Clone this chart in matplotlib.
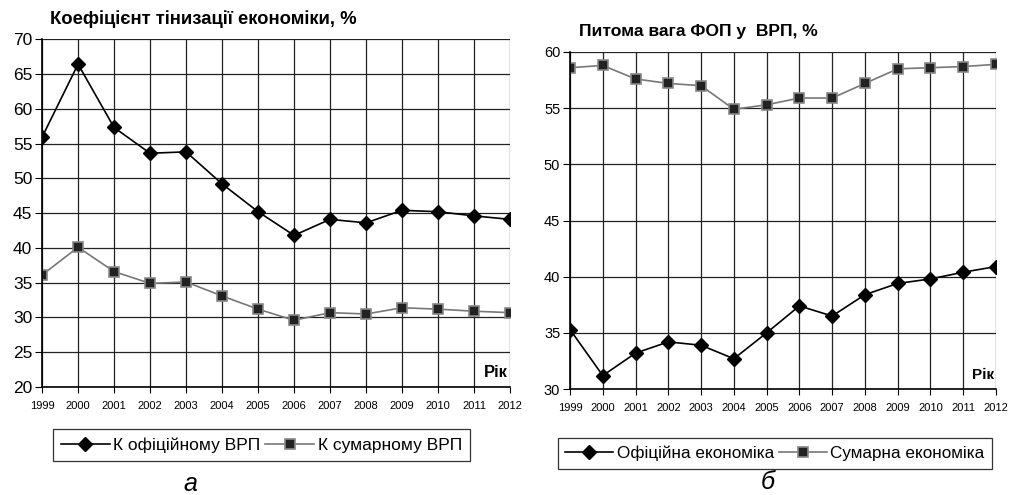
# shadow economy coefficient and share of individual entrepreneurs in GRP
import matplotlib.pyplot as plt

years = list(range(1999, 2013))

# left panel: coefficient of shadow economy, %
k_official = [55.9, 66.4, 57.3, 53.6, 53.8, 49.2, 45.2, 41.8, 44.1, 43.6, 45.4, 45.2, 44.6, 44.1]
k_total = [36.1, 40.1, 36.6, 34.9, 35.1, 33.1, 31.2, 29.6, 30.7, 30.5, 31.4, 31.2, 30.9, 30.7]

# right panel: share of FOP in GRP, %
fop_official = [35.3, 31.2, 33.2, 34.2, 33.9, 32.7, 35.0, 37.4, 36.5, 38.4, 39.4, 39.8, 40.4, 40.9]
fop_total = [58.6, 58.8, 57.6, 57.2, 57.0, 54.9, 55.3, 55.9, 55.9, 57.2, 58.5, 58.6, 58.7, 58.9]

plt.rcParams['font.family'] = ['Liberation Sans', 'DejaVu Sans']

fig = plt.figure(figsize=(10.13, 4.95), dpi=100)
ax1 = fig.add_axes([0.0415, 0.218, 0.462, 0.703])
ax2 = fig.add_axes([0.5627, 0.214, 0.4205, 0.681])

def style(ax, ylo, yhi, ysize, rsize):
    ax.set_xlim(1999, 2012)
    ax.set_ylim(ylo, yhi)
    ax.set_xticks(years)
    ax.set_xticklabels([str(y) for y in years], fontsize=8)
    ax.set_yticks(range(ylo, yhi + 1, 5))
    ax.tick_params(axis='y', labelsize=ysize, length=5, pad=2)
    ax.tick_params(axis='x', length=4, pad=6)
    ax.grid(True, color='#222222', lw=0.9)
    ax.set_axisbelow(True)
    for s in ['top', 'right']:
        ax.spines[s].set_visible(False)
    ax.spines['left'].set_linewidth(1.2)
    ax.spines['bottom'].set_linewidth(1.2)
    ax.text(0.995, 0.02, 'Рік', transform=ax.transAxes, ha='right', va='bottom',
            fontsize=rsize, fontweight='bold',
            bbox=dict(facecolor='white', edgecolor='none', pad=1))

style(ax1, 20, 70, 12.5, 12)
style(ax2, 30, 60, 10.5, 11)

l1, = ax1.plot(years, k_official, color='black', lw=1.2, marker='D', ms=7.5, mfc='black', mec='black')
l2, = ax1.plot(years, k_total, color='#777777', lw=1.2, marker='s', ms=7, mfc='#222222', mec='#888888', mew=1.2)
r1, = ax2.plot(years, fop_official, color='black', lw=1.2, marker='D', ms=7.5, mfc='black', mec='black')
r2, = ax2.plot(years, fop_total, color='#777777', lw=1.2, marker='s', ms=7, mfc='#222222', mec='#888888', mew=1.2)

fig.text(0.049, 0.962, 'Коефіцієнт тінизації економіки, %', fontsize=13.3, fontweight='bold', va='center')
fig.text(0.572, 0.936, 'Питома вага ФОП у  ВРП, %', fontsize=12.6, fontweight='bold', va='center')

leg1 = fig.legend([l1, l2], ['К офіційному ВРП', 'К сумарному ВРП'], ncol=2,
                  loc='center', bbox_to_anchor=(0.258, 0.101), fontsize=12.5,
                  frameon=True, fancybox=False, edgecolor='black', handlelength=2.8,
                  columnspacing=0.3, handletextpad=0.2, borderpad=0.45)
leg1.get_frame().set_linewidth(0.9)
leg2 = fig.legend([r1, r2], ['Офіційна економіка', 'Сумарна економіка'], ncol=2,
                  loc='center', bbox_to_anchor=(0.765, 0.084), fontsize=12.3,
                  frameon=True, fancybox=False, edgecolor='black', handlelength=2.8,
                  columnspacing=0.3, handletextpad=0.2, borderpad=0.45)
leg2.get_frame().set_linewidth(0.9)

fig.text(0.188, 0.022, 'а', fontsize=18, style='italic', ha='center', va='center')
fig.text(0.758, 0.026, 'б', fontsize=18, style='italic', ha='center', va='center')

plt.savefig('out.png', dpi=100)
